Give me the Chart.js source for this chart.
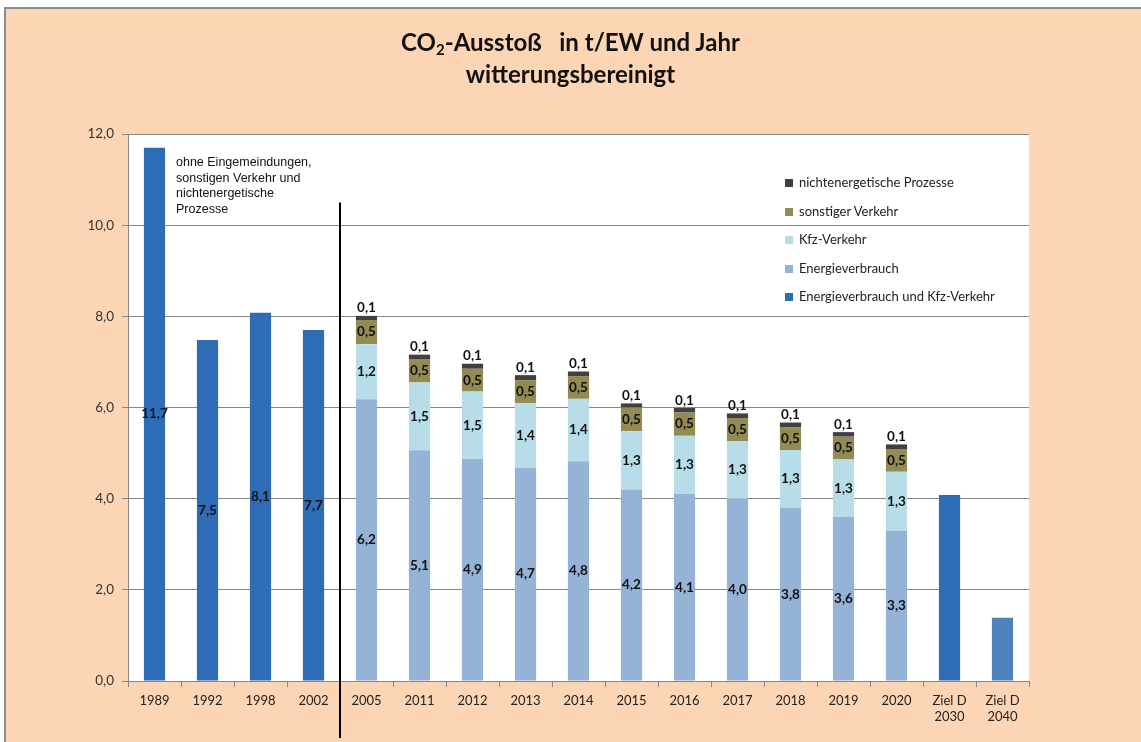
<!DOCTYPE html>
<html>
<head>
<meta charset="utf-8">
<script src="https://cdn.jsdelivr.net/npm/chart.js@4/dist/chart.umd.min.js"></script>
<style>
    body { margin: 0; background: #ffffff; }
    #wrap { position: relative; width: 1141px; height: 742px; overflow: hidden; }
    #frame { position: absolute; left: 4px; top: 7px; right: 0; bottom: 0; background: #fcd5b4;
        border-left: 2px solid #8c8c8c; border-top: 2px solid #8c8c8c; }
    #chart { position: absolute; left: 0; top: 0; }
    #title { position: absolute; left: 0; width: 1141px; top: 26px; text-align: center;
        font: bold 24px Lato, "Open Sans", sans-serif; line-height: 32px; color: #111; }
    #title sub { font-size: 15px; vertical-align: -4px; line-height: 0; }
    #note { position: absolute; left: 176px; top: 155px; font: 12.5px "Liberation Sans", Arial, sans-serif;
        line-height: 15.7px; color: #111; }
    #legend { position: absolute; left: 785px; top: 172px; font: 13px Lato, "Open Sans", sans-serif; color: #222; }
    #legend div { height: 28.6px; line-height: 20px; white-space: nowrap; }
    #legend span { display: inline-block; width: 8px; height: 8px; margin-right: 6px; vertical-align: 0px; }
</style>
</head>
<body>
<div id="wrap">
    <div id="frame"></div>
    <canvas id="chart" width="1141" height="742"></canvas>
    <div id="title">CO<sub>2</sub>-Ausstoß&nbsp;&nbsp; in t/EW und Jahr<br>witterungsbereinigt</div>
    <div id="note">ohne Eingemeindungen,<br>sonstigen Verkehr und<br>nichtenergetische<br>Prozesse</div>
    <div id="legend"></div>
</div>
<script>
const categories = ['1989', '1992', '1998', '2002', '2005', '2011', '2012', '2013', '2014', '2015',
    '2016', '2017', '2018', '2019', '2020', ['Ziel D', '2030'], ['Ziel D', '2040']];

// Energieverbrauch und Kfz-Verkehr (ohne Aufteilung)
const gesamt = [11.7, 7.48, 8.08, 7.7, null, null, null, null, null, null, null, null, null, null, null, 4.08, 1.39];
const energie = [null, null, null, null, 6.18, 5.06, 4.87, 4.68, 4.82, 4.2, 4.1, 4.0, 3.8, 3.6, 3.3, null, null];
const kfz = [null, null, null, null, 1.21, 1.49, 1.48, 1.42, 1.37, 1.28, 1.28, 1.26, 1.26, 1.26, 1.29, null, null];
const sonstiger = [null, null, null, null, 0.53, 0.5, 0.5, 0.5, 0.5, 0.52, 0.51, 0.51, 0.51, 0.5, 0.5, null, null];
const nichtenerg = [null, null, null, null, 0.09, 0.11, 0.11, 0.11, 0.1, 0.09, 0.1, 0.1, 0.1, 0.1, 0.1, null, null];

// Zielwerte bekommen keine Beschriftung
const ohneBeschriftung = [15, 16];

const yTicks = [0, 2, 4, 6, 8, 10, 12];

const gesamtColors = categories.map((c, i) => i === categories.length - 1 ? '#4f81bd' : '#2e6db6');

function fmt(v) {
    return v.toFixed(1).replace('.', ',');
}

// white plot area
const plotBackground = {
    id: 'plotBackground',
    beforeDraw(chart) {
        const { ctx, chartArea } = chart;
        ctx.save();
        ctx.fillStyle = '#ffffff';
        ctx.fillRect(chartArea.left, chartArea.top, chartArea.right - chartArea.left, chartArea.bottom - chartArea.top);
        ctx.restore();
    }
};

// value labels + the separating line between 2002 and 2005
const valueLabels = {
    id: 'valueLabels',
    afterDatasetsDraw(chart) {
        const ctx = chart.ctx;
        ctx.save();
        ctx.font = 'bold 13.5px Lato, "Open Sans", sans-serif';
        ctx.fillStyle = '#111';
        ctx.textAlign = 'center';
        chart.data.datasets.forEach((ds, di) => {
            const meta = chart.getDatasetMeta(di);
            meta.data.forEach((bar, i) => {
                const v = ds.data[i];
                if (v === null || ohneBeschriftung.includes(i)) return;
                if (ds.labelOnTop) {
                    ctx.textBaseline = 'bottom';
                    ctx.fillText(fmt(v), bar.x, bar.y - 1);
                } else {
                    ctx.textBaseline = 'middle';
                    ctx.fillText(fmt(v), bar.x, (bar.y + bar.base) / 2);
                }
            });
        });

        const x = chart.scales.x;
        const y = chart.scales.y;
        const lx = (x.getPixelForValue(3) + x.getPixelForValue(4)) / 2;
        ctx.strokeStyle = '#000';
        ctx.lineWidth = 2;
        ctx.beginPath();
        ctx.moveTo(lx, y.getPixelForValue(10.5));
        ctx.lineTo(lx, 738);
        ctx.stroke();
        ctx.restore();
    }
};

function initChart() {
    const ctx = document.getElementById('chart').getContext('2d');
    const chart = new Chart(ctx, {
        type: 'bar',
        data: {
            labels: categories,
            datasets: [
                { label: 'Energieverbrauch und Kfz-Verkehr', data: gesamt, backgroundColor: gesamtColors },
                { label: 'Energieverbrauch', data: energie, backgroundColor: '#95b3d7' },
                { label: 'Kfz-Verkehr', data: kfz, backgroundColor: '#b7dee8' },
                { label: 'sonstiger Verkehr', data: sonstiger, backgroundColor: '#948a54' },
                { label: 'nichtenergetische Prozesse', data: nichtenerg, backgroundColor: '#404040', labelOnTop: true }
            ]
        },
        options: {
            responsive: false,
            animation: false,
            events: [],
            datasets: {
                bar: { categoryPercentage: 1, barPercentage: 0.4, borderWidth: 0, skipNull: true }
            },
            layout: { padding: { top: 134, right: 112, left: 0, bottom: 0 } },
            plugins: {
                legend: { display: false },
                tooltip: { enabled: false }
            },
            scales: {
                x: {
                    stacked: true,
                    grid: { offset: true, drawOnChartArea: false, drawTicks: true, tickLength: 6, color: '#868686' },
                    border: { color: '#868686' },
                    ticks: {
                        color: '#222',
                        font: { family: 'Lato, "Open Sans", sans-serif', size: 13 },
                        padding: 6,
                        maxRotation: 0,
                        autoSkip: false
                    },
                    afterFit(scale) { scale.height = 61; }
                },
                y: {
                    stacked: true,
                    min: 0,
                    max: 12,
                    afterBuildTicks(scale) { scale.ticks = yTicks.map(v => ({ value: v })); },
                    grid: { color: '#868686', tickLength: 6 },
                    border: { color: '#868686' },
                    ticks: {
                        color: '#333',
                        font: { family: 'Lato, "Open Sans", sans-serif', size: 13.5 },
                        padding: 8,
                        callback: v => fmt(v)
                    },
                    afterFit(scale) { scale.width = 128; }
                }
            }
        },
        plugins: [plotBackground, valueLabels]
    });

    // legend, reversed like the original
    const legend = document.getElementById('legend');
    chart.data.datasets.slice().reverse().forEach(ds => {
        const row = document.createElement('div');
        const col = Array.isArray(ds.backgroundColor) ? ds.backgroundColor[0] : ds.backgroundColor;
        row.innerHTML = '<span style="background:' + col + '"></span>' + ds.label;
        legend.appendChild(row);
    });
}

document.addEventListener('DOMContentLoaded', initChart);
</script>
</body>
</html>
